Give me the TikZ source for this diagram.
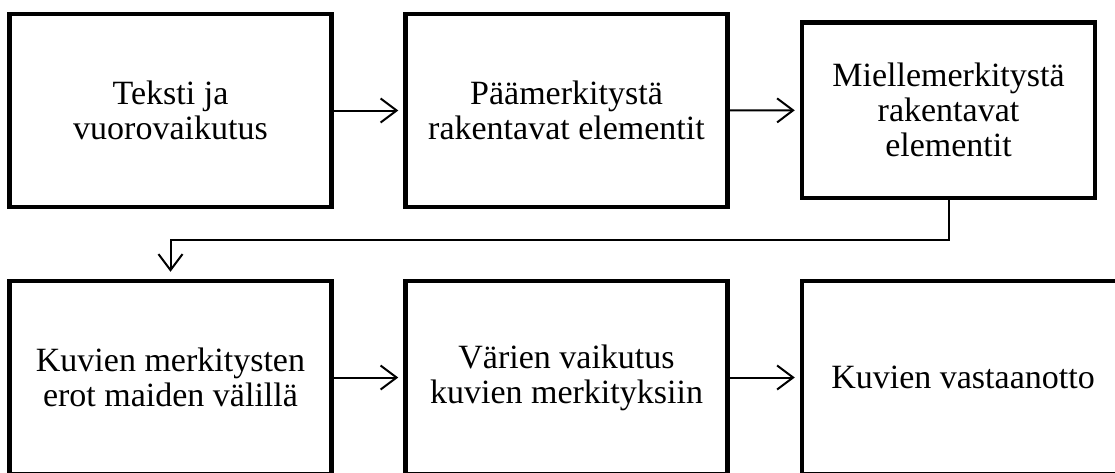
\documentclass[tikz,border=0pt]{standalone}
\usepackage{fontspec}
\setmainfont{Liberation Serif}
\usetikzlibrary{arrows.meta}
\begin{document}
\begin{tikzpicture}[x=1pt,y=-1pt,
  stage/.style={draw=black, line width=4.5pt, fill=white, align=center,
    minimum width=322pt, minimum height=193pt, inner sep=0pt,
    font=\fontsize{34}{35}\selectfont},
  conn/.style={draw=black, line width=2pt,
    -{Straight Barb[length=16pt,width=24pt,line width=2pt]}, shorten >=5pt}]
\useasboundingbox (0,0) rectangle (1115,472);
% top row
\node[stage] (b1) at (170.5,110.5) {Teksti ja\\vuorovaikutus};
\node[stage] (b2) at (566.5,110.5) {Päämerkitystä\\rakentavat elementit};
\node[stage, minimum width=293pt, minimum height=175.5pt] (b3) at (948.5,110.25)
  {Miellemerkitystä\\rakentavat\\elementit};
% bottom row
\node[stage] (b4) at (170.5,377.5) {Kuvien merkitysten\\erot maiden välillä};
\node[stage] (b5) at (566.5,377.5) {Värien vaikutus\\kuvien merkityksiin};
\node[stage] (b6) at (963,377.5) {Kuvien vastaanotto};
% connectors
\coordinate (bend) at (170.5,240);
\draw[conn] (b1) -- (b2);
\draw[conn] (b2) -- (b3);
\draw[conn, shorten >=7pt] (b3.south) |- (bend) -- (b4.north);
\draw[conn] (b4) -- (b5);
\draw[conn] (b5) -- (b6);
\end{tikzpicture}
\end{document}
